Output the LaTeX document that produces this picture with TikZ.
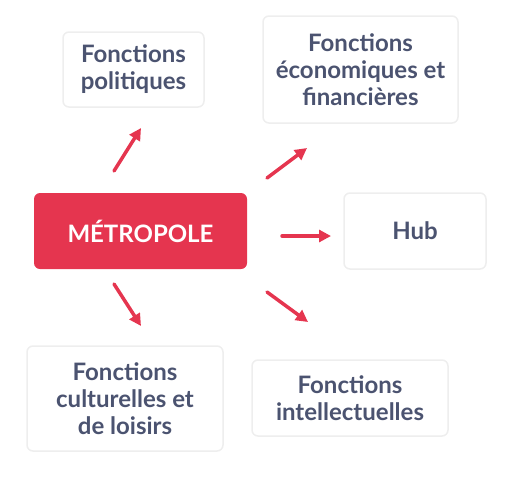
\documentclass[tikz,border=0pt]{standalone}
\usepackage{fontspec}
\setmainfont{Lato}
\usetikzlibrary{arrows.meta,positioning}
\definecolor{metrored}{HTML}{E5354F}
\definecolor{boxtext}{HTML}{4B5370}
\definecolor{boxline}{HTML}{EEEEEE}

\begin{document}
\begin{tikzpicture}[x=1pt,y=-1pt,
  fbox/.style={draw=boxline, line width=1.5pt, rounded corners=6pt, fill=white,
    text=boxtext, font=\bfseries\fontsize{24}{27}\selectfont, align=center, inner sep=0pt},
  mainbox/.style={fill=metrored, rounded corners=6pt, text=white,
    font=\bfseries\fontsize{24}{27}\selectfont, inner sep=0pt},
  fleche/.style={draw=metrored, line width=3.5pt, line cap=round,
    -{Triangle[length=12pt,width=12pt]}}]
  \useasboundingbox (0,0) rectangle (505,477);
  % Define nodes
  \node[mainbox, minimum width=213pt, minimum height=76pt] (metro) at (140.5,231) {MÉTROPOLE};
  \node[fbox, minimum width=141pt, minimum height=75pt] (pol) at (133.5,69.5) {Fonctions\\politiques};
  \node[fbox, minimum width=195pt, minimum height=107pt] (eco) at (360.5,69.5) {Fonctions\\économiques et\\financières};
  \node[fbox, minimum width=142pt, minimum height=76pt] (hub) at (415,231) {Hub};
  \node[fbox, minimum width=196pt, minimum height=105pt] (cult) at (125,398.5) {Fonctions\\culturelles et\\de loisirs};
  \node[fbox, minimum width=196pt, minimum height=76pt] (intel) at (350,398) {Fonctions\\intellectuelles};
  % Arrow ends
  \coordinate (polA) at (114,171);
  \coordinate (polB) at (141,128);
  \coordinate (ecoA) at (267,178);
  \coordinate (ecoB) at (307,148);
  \coordinate (hubA) at (282,236);
  \coordinate (hubB) at (331,236);
  \coordinate (cultA) at (114,284);
  \coordinate (cultB) at (141,326);
  \coordinate (intelA) at (267,292);
  \coordinate (intelB) at (308,322);
  \draw[fleche] (polA) -- (polB);
  \draw[fleche] (ecoA) -- (ecoB);
  \draw[fleche] (hubA) -- (hubB);
  \draw[fleche] (cultA) -- (cultB);
  \draw[fleche] (intelA) -- (intelB);
\end{tikzpicture}
\end{document}
